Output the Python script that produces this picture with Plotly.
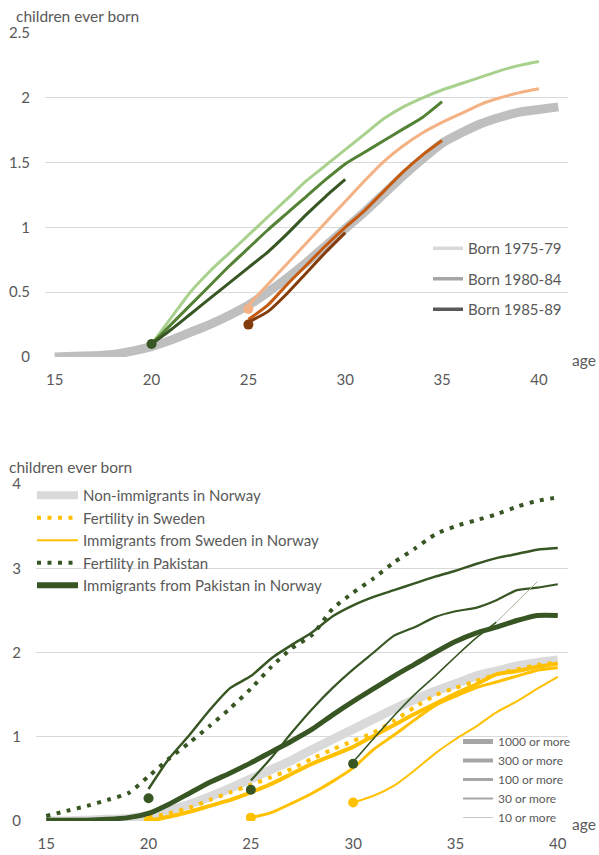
import plotly.graph_objects as go

W, H = 599, 855
FONT = "Lato"
TXT = "#595959"

# ---------------- top panel data ----------------
top_gray_ages = list(range(15, 42))
top_gray = [0.00, 0.005, 0.01, 0.02, 0.045, 0.08, 0.13, 0.19, 0.25, 0.32,
            0.40, 0.50, 0.61, 0.73, 0.86, 0.99, 1.12, 1.26, 1.40, 1.53,
            1.65, 1.73, 1.80, 1.85, 1.89, 1.91, 1.93]

green_ages_a = list(range(20, 41))
green_light = [0.10, 0.30, 0.50, 0.66, 0.80, 0.94, 1.08, 1.22, 1.36, 1.48, 1.60,
               1.72, 1.84, 1.93, 2.00, 2.06, 2.11, 2.16, 2.21, 2.25, 2.28]
green_ages_b = list(range(20, 36))
green_mid = [0.10, 0.25, 0.40, 0.55, 0.70, 0.84, 0.98, 1.11, 1.24, 1.37, 1.49,
             1.58, 1.67, 1.76, 1.85, 1.97]
green_ages_c = list(range(20, 31))
green_dark = [0.10, 0.21, 0.33, 0.45, 0.57, 0.69, 0.81, 0.95, 1.10, 1.24, 1.37]

orange_ages_a = list(range(25, 41))
orange_light = [0.40, 0.56, 0.72, 0.88, 1.04, 1.20, 1.36, 1.51, 1.63, 1.73, 1.81,
                1.88, 1.95, 2.00, 2.04, 2.07]
orange_ages_b = list(range(25, 36))
orange_mid = [0.29, 0.40, 0.56, 0.71, 0.86, 1.00, 1.13, 1.28, 1.43, 1.56, 1.67]
orange_ages_c = list(range(25, 31))
orange_dark = [0.27, 0.35, 0.49, 0.65, 0.81, 0.96]

top_dot_ages = [20, 25, 25]
top_dot_vals = [0.10, 0.37, 0.25]
top_dot_colors = ["#375623", "#f4b183", "#843c0c"]

top_legend_names = ["Born 1975-79", "Born 1980-84", "Born 1985-89"]
top_legend_colors = ["#d9d9d9", "#a6a6a6", "#595959"]

top_yticks = [0, 0.5, 1, 1.5, 2, 2.5]
top_yticklabels = ["0", "0.5", "1", "1.5", "2", "2.5"]
xticks = [15, 20, 25, 30, 35, 40]
xticklabels = ["15", "20", "25", "30", "35", "40"]

# ---------------- bottom panel data ----------------
bot_ages_full = list(range(15, 41))
nonimm = [0.00, 0.00, 0.01, 0.02, 0.03, 0.07, 0.13, 0.20, 0.29, 0.39, 0.50,
          0.61, 0.72, 0.85, 0.97, 1.09, 1.21, 1.33, 1.44, 1.54, 1.63, 1.72,
          1.78, 1.84, 1.88, 1.91]
pak_fert = [0.06, 0.12, 0.18, 0.25, 0.33, 0.53, 0.74, 0.93, 1.13, 1.34, 1.57,
            1.83, 2.05, 2.21, 2.52, 2.71, 2.88, 3.07, 3.23, 3.40, 3.50, 3.57,
            3.64, 3.73, 3.80, 3.84]
pak_imm15 = [0.01, 0.01, 0.01, 0.02, 0.04, 0.09, 0.20, 0.33, 0.46, 0.57, 0.69,
             0.82, 0.95, 1.09, 1.26, 1.42, 1.57, 1.72, 1.86, 2.00, 2.13, 2.23,
             2.30, 2.38, 2.44, 2.44]
ages20 = list(range(20, 41))
pak_imm20 = [0.38, 0.74, 1.02, 1.32, 1.58, 1.72, 1.93, 2.09, 2.24, 2.43, 2.56,
             2.66, 2.74, 2.82, 2.90, 2.97, 3.05, 3.12, 3.17, 3.22, 3.24]
ages25 = list(range(25, 41))
pak_imm25 = [0.48, 0.75, 1.05, 1.33, 1.58, 1.80, 2.00, 2.20, 2.30, 2.42, 2.49,
             2.53, 2.62, 2.74, 2.77, 2.81]
ages30 = list(range(30, 38))
pak_imm30 = [0.70, 0.98, 1.25, 1.50, 1.72, 1.95, 2.17, 2.36]
ages37 = [37, 38, 39]
pak_imm30_tail = [2.36, 2.60, 2.84]

swe_fert = [0.04, 0.09, 0.16, 0.25, 0.34, 0.43, 0.52, 0.62, 0.74, 0.85, 0.95,
            1.05, 1.19, 1.35, 1.49, 1.58, 1.66, 1.74, 1.80, 1.85, 1.88]
swe_imm20 = [0.00, 0.05, 0.11, 0.18, 0.25, 0.34, 0.44, 0.56, 0.68, 0.78, 0.88,
             1.01, 1.14, 1.27, 1.39, 1.51, 1.62, 1.74, 1.78, 1.83, 1.87]
swe_imm25 = [0.04, 0.10, 0.21, 0.33, 0.47, 0.63, 0.85, 1.02, 1.20, 1.37, 1.48,
             1.58, 1.65, 1.72, 1.79, 1.82]
ages30s = list(range(30, 41))
swe_imm30 = [0.22, 0.30, 0.42, 0.60, 0.80, 0.97, 1.12, 1.29, 1.42, 1.57, 1.71]

pak_dot_ages = [20, 25, 30]
pak_dot_vals = [0.27, 0.37, 0.68]
swe_dot_ages = [20, 25, 30]
swe_dot_vals = [0.00, 0.04, 0.22]

bot_legend_names = ["Non-immigrants in Norway", "Fertility in Sweden",
                    "Immigrants from Sweden in Norway", "Fertility in Pakistan",
                    "Immigrants from Pakistan in Norway"]
size_names = ["1000 or more", "300 or more", "100 or more", "30 or more", "10 or more"]
size_widths = [5, 4, 3, 2, 1]
size_colors = ["#a6a6a6", "#a6a6a6", "#a6a6a6", "#a6a6a6", "#c9c9c9"]

bot_yticks = [0, 1, 2, 3, 4]
bot_yticklabels = ["0", "1", "2", "3", "4"]

GREEN = "#375623"
YELLOW = "#ffc000"
DOT = "4px,6.5px"

fig = go.Figure()


def line(x, y, color, width, ax, dash=None, shape="spline"):
    fig.add_trace(go.Scatter(
        x=x, y=y, mode="lines", xaxis="x" if ax == 1 else "x2",
        yaxis="y" if ax == 1 else "y2", showlegend=False, hoverinfo="skip",
        line=dict(color=color, width=width, dash=dash, shape=shape, smoothing=0.6)))


# top
line(top_gray_ages, top_gray, "#bfbfbf", 9, 1)
line(green_ages_a, green_light, "#a9d18e", 3, 1)
line(green_ages_b, green_mid, "#548235", 3, 1)
line(green_ages_c, green_dark, "#375623", 3, 1)
line(orange_ages_a, orange_light, "#f4b183", 3, 1)
line(orange_ages_b, orange_mid, "#c55a11", 3, 1)
line(orange_ages_c, orange_dark, "#843c0c", 3, 1)
fig.add_trace(go.Scatter(x=top_dot_ages, y=top_dot_vals, mode="markers",
                         marker=dict(color=top_dot_colors, size=10),
                         xaxis="x", yaxis="y", showlegend=False, hoverinfo="skip"))
for name, col in zip(top_legend_names, top_legend_colors):
    fig.add_trace(go.Scatter(x=[None], y=[None], mode="lines", name=name,
                             legend="legend", legendgroup=name,
                             line=dict(color=col, width=3.5), xaxis="x", yaxis="y"))

# bottom
line(bot_ages_full, nonimm, "#dadada", 9, 2)
line(ages20, swe_fert, YELLOW, 4, 2, dash=DOT)
line(ages20, swe_imm20, YELLOW, 4, 2)
line(ages25, swe_imm25, YELLOW, 3, 2)
line(ages30s, swe_imm30, YELLOW, 2, 2)
line(bot_ages_full, pak_fert, GREEN, 4, 2, dash=DOT)
line(bot_ages_full, pak_imm15, GREEN, 5, 2)
line(ages20, pak_imm20, GREEN, 2.5, 2)
line(ages25, pak_imm25, GREEN, 2.2, 2)
line(ages30, pak_imm30, GREEN, 1.6, 2)
line(ages37, pak_imm30_tail, "#a3b396", 1, 2)
fig.add_trace(go.Scatter(x=pak_dot_ages, y=pak_dot_vals, mode="markers",
                         marker=dict(color=GREEN, size=10), xaxis="x2", yaxis="y2",
                         showlegend=False, hoverinfo="skip"))
fig.add_trace(go.Scatter(x=swe_dot_ages, y=swe_dot_vals, mode="markers",
                         marker=dict(color=YELLOW, size=10), xaxis="x2", yaxis="y2",
                         showlegend=False, hoverinfo="skip"))

leg2_styles = [dict(color="#d9d9d9", width=8), dict(color=YELLOW, width=4, dash=DOT),
               dict(color=YELLOW, width=2), dict(color=GREEN, width=4, dash=DOT),
               dict(color=GREEN, width=6)]
for name, st in zip(bot_legend_names, leg2_styles):
    fig.add_trace(go.Scatter(x=[None], y=[None], mode="lines", name=name,
                             legend="legend2", line=st, xaxis="x2", yaxis="y2"))
for name, w, c in zip(size_names, size_widths, size_colors):
    fig.add_trace(go.Scatter(x=[None], y=[None], mode="lines", name=name,
                             legend="legend3", line=dict(color=c, width=w),
                             xaxis="x2", yaxis="y2"))


def px_x(p):
    """page pixel x -> paper fraction"""
    return p / W


def px_y(p):
    """page pixel y -> paper fraction"""
    return (H - p) / H


tickfont = dict(family=FONT, size=15, color=TXT)
xcommon = dict(tickvals=xticks, ticktext=xticklabels, showgrid=False, zeroline=False,
               showline=False, ticks="", tickfont=tickfont, automargin=False,
               ticklabelstandoff=12, fixedrange=True)
ycommon = dict(showgrid=True, gridcolor="#d9d9d9", gridwidth=1.2, zeroline=False,
               showline=False, ticks="", tickfont=tickfont, automargin=False,
               ticklabelstandoff=14, fixedrange=True)

labelfont = dict(family=FONT, size=15.5, color=TXT)

fig.update_layout(
    width=W, height=H, margin=dict(l=0, r=0, t=0, b=0),
    paper_bgcolor="white", plot_bgcolor="white",
    font=dict(family=FONT, color=TXT),
    xaxis=dict(domain=[px_x(45), px_x(568)], range=[14.5, 41.5], anchor="y", **xcommon),
    yaxis=dict(domain=[px_y(357), px_y(33)], range=[0, 2.5], anchor="x",
               tickvals=top_yticks, ticktext=top_yticklabels, **ycommon),
    xaxis2=dict(domain=[px_x(36), px_x(568)], range=[14.5, 40.5], anchor="y2", **xcommon),
    yaxis2=dict(domain=[px_y(821), px_y(484)], range=[0, 4], anchor="x2",
                tickvals=bot_yticks, ticktext=bot_yticklabels, **ycommon),
    legend=dict(x=px_x(428), y=px_y(232), xanchor="left", yanchor="top",
                bgcolor="rgba(0,0,0,0)", font=dict(family=FONT, size=15, color=TXT),
                traceorder="grouped", tracegroupgap=8, itemwidth=30),
    legend2=dict(x=px_x(32), y=px_y(479), xanchor="left", yanchor="top",
                 bgcolor="rgba(0,0,0,0)", font=dict(family=FONT, size=15, color=TXT),
                 itemwidth=41),
    legend3=dict(x=px_x(458), y=px_y(727), xanchor="left", yanchor="top",
                 bgcolor="rgba(0,0,0,0)", font=dict(family=FONT, size=12, color=TXT),
                 itemwidth=30),
    annotations=[
        dict(text="children ever born", x=px_x(14), y=px_y(16), xref="paper", yref="paper",
             xanchor="left", yanchor="middle", showarrow=False, font=labelfont),
        dict(text="age", x=px_x(598), y=px_y(360), xref="paper", yref="paper",
             xanchor="right", yanchor="middle", showarrow=False, font=labelfont),
        dict(text="children ever born", x=px_x(7), y=px_y(467), xref="paper", yref="paper",
             xanchor="left", yanchor="middle", showarrow=False, font=labelfont),
        dict(text="age", x=px_x(598), y=px_y(824), xref="paper", yref="paper",
             xanchor="right", yanchor="middle", showarrow=False, font=labelfont),
    ],
)

# remove the default page margin so the 599x855 figure fills the window exactly
fig.write_html("out.html", config={"displayModeBar": False},
               post_script="document.body.style.margin='0';"
                           "document.body.style.overflow='hidden';")
